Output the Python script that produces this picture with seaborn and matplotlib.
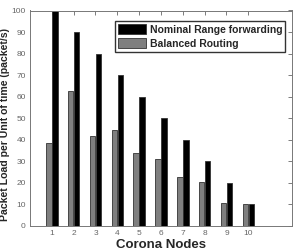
"""Packet load per corona node"""

import numpy as np
import pandas as pd
import matplotlib
matplotlib.use('Agg')
import matplotlib.pyplot as plt
import seaborn as sns

nodes = [1, 2, 3, 4, 5, 6, 7, 8, 9, 10]
nominal = [100, 90, 80, 70, 60, 50, 40, 30, 20, 10]
balanced = [38.3, 62.8, 41.7, 44.5, 34, 31.2, 22.8, 20.3, 10.7, 10]

methods = ['Balanced Routing', 'Nominal Range forwarding']

df = pd.DataFrame({
    'node': nodes * 2,
    'load': balanced + nominal,
    'method': [methods[0]] * len(nodes) + [methods[1]] * len(nodes),
})

sns.set_style('white')
plt.rcParams['font.family'] = ['Liberation Sans', 'DejaVu Sans']

fig = plt.figure(figsize=(2.97, 2.5), dpi=100)
ax = fig.add_axes([0.101, 0.096, 0.882, 0.862])

sns.barplot(x='node', y='load', hue='method', data=df, hue_order=methods,
            palette=['#7f7f7f', '#000000'], width=0.55, gap=0.1,
            edgecolor='#333333', linewidth=0.6, ax=ax)

ax.set_xlim(-1, 11)
ax.set_ylim(0, 100)
ax.set_yticks(np.arange(0, 101, 10))
ax.tick_params(axis='both', direction='in', length=3, labelsize=6,
               colors='#666666', top=True, right=True, width=0.6, pad=3)
for s in ax.spines.values():
    s.set_color('#777777')
    s.set_linewidth(0.7)

ax.set_xlabel('Corona Nodes', fontsize=9.5, fontweight='bold', labelpad=1)
ax.set_ylabel('Packet Load per Unit of time (packet/s)', fontsize=7.6,
              fontweight='bold')
ax.yaxis.set_label_coords(-0.075, 0.47)

handles, labels = ax.get_legend_handles_labels()
ax.legend(handles[::-1], labels[::-1], loc='upper right',
          prop={'weight': 'bold', 'size': 7.5}, frameon=True, fancybox=False,
          edgecolor='#000000', borderpad=0.3, labelspacing=0.35,
          handlelength=2.6, handleheight=1.1, handletextpad=0.4,
          bbox_to_anchor=(0.995, 0.975))

fig.savefig('out.png', dpi=100)
